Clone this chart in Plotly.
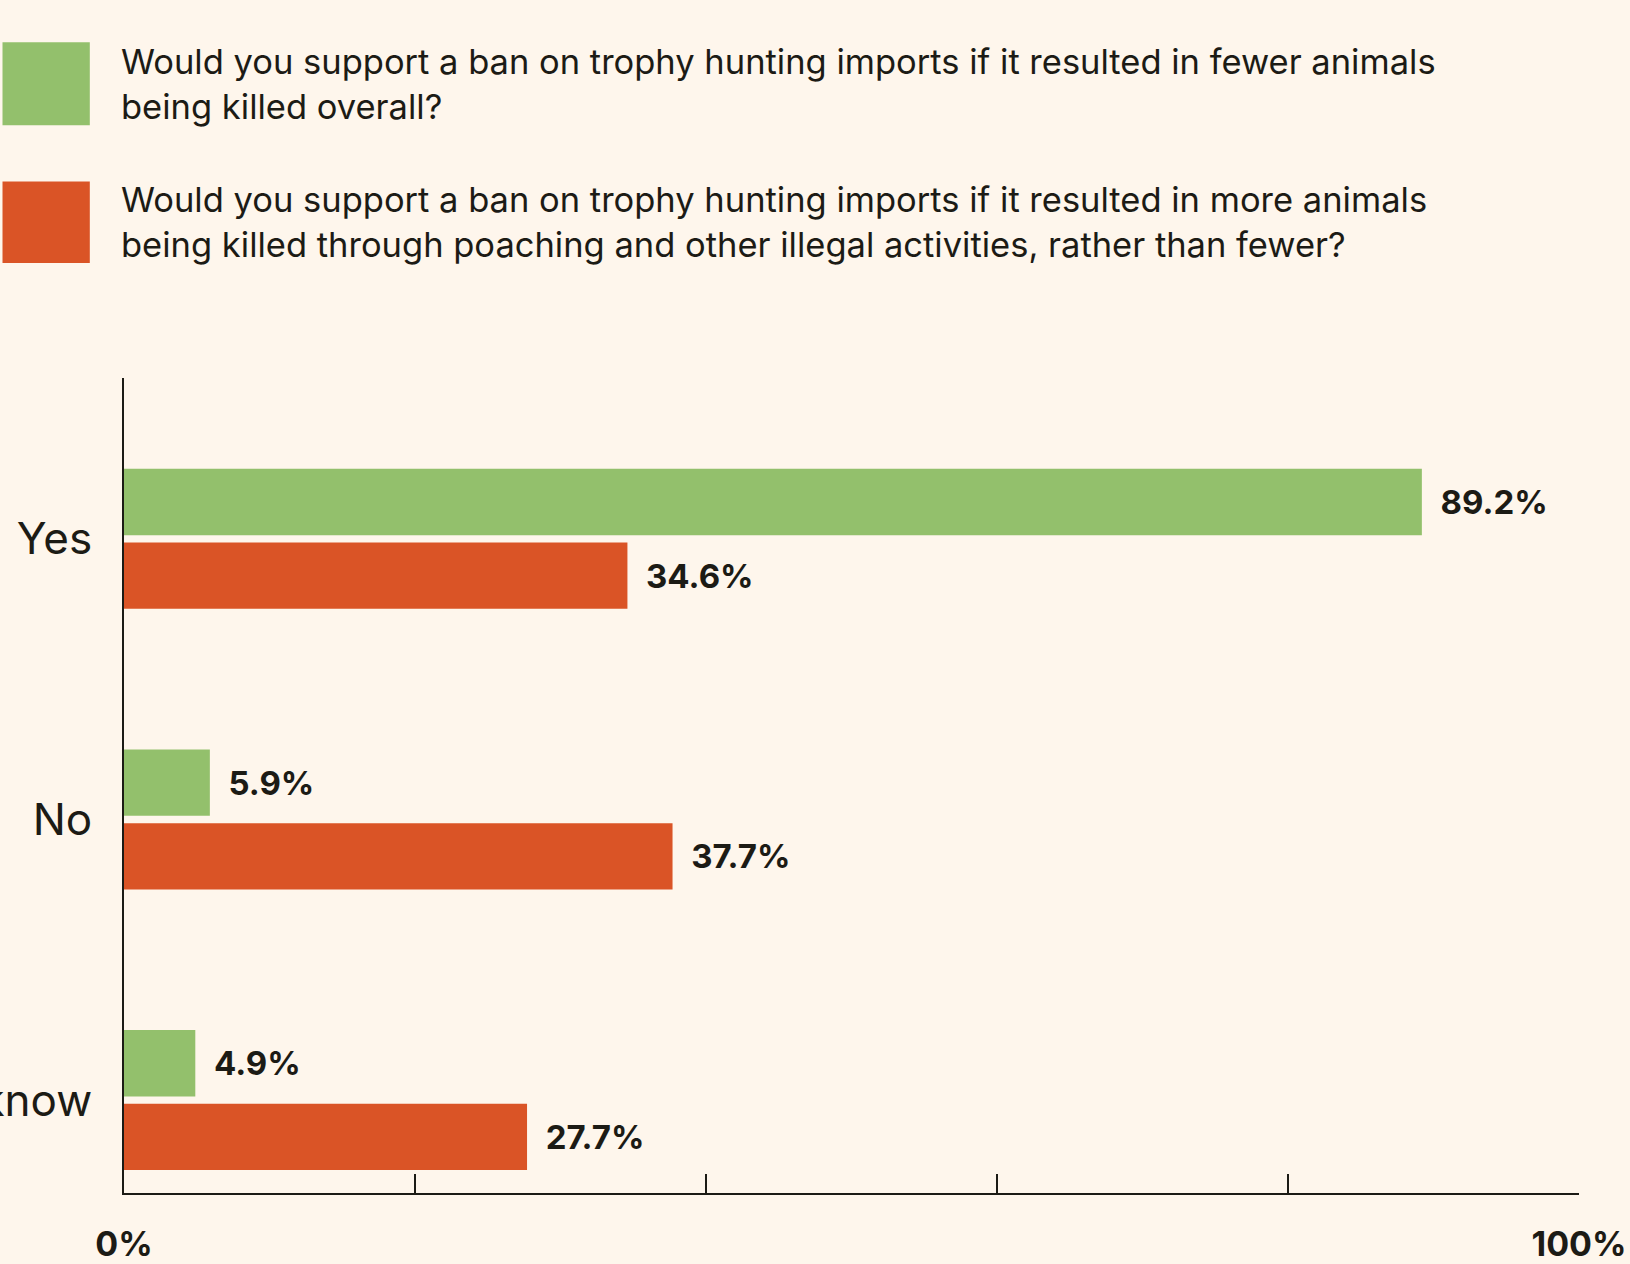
import plotly.graph_objects as go

categories = ["Yes", "No", "Don't know"]
fewer_killed = [89.2, 5.9, 4.9]
more_killed = [34.6, 37.7, 27.7]
series_names = [
    "Would you support a ban on trophy hunting imports if it resulted in fewer animals<br>being killed overall?",
    "Would you support a ban on trophy hunting imports if it resulted in more animals<br>being killed through poaching and other illegal activities, rather than fewer?",
]
tick_vals = [0, 20, 40, 60, 80, 100]
tick_text = ["0%", "", "", "", "", "100%"]

GREEN = "#93C06C"
RED = "#DA5426"
BG = "#FEF6EC"
INK = "#1C1B15"
FONT = "Inter"

fig = go.Figure()
pad = "\u00a0\u00a0"
for vals, col, name in [(fewer_killed, GREEN, series_names[0]), (more_killed, RED, series_names[1])]:
    fig.add_trace(go.Bar(
        y=categories, x=vals, orientation="h", marker=dict(color=col, line=dict(width=0)),
        name=name, text=[f"{pad}{v:.1f}%" for v in vals], textposition="outside",
        textfont=dict(family=FONT, size=33, color=INK, weight="bold"),
        cliponaxis=False, showlegend=False, hoverinfo="skip",
    ))

fig.update_layout(
    width=1630, height=1264,
    paper_bgcolor=BG, plot_bgcolor=BG,
    margin=dict(l=124, r=51, t=378, b=71, autoexpand=False),
    barmode="group", bargap=0.475, bargroupgap=0.1,
    font=dict(family=FONT, color=INK),
)
fig.update_xaxes(
    range=[0, 100], tickvals=tick_vals, ticktext=tick_text,
    showgrid=False, zeroline=False, showline=True, linecolor=INK, linewidth=2,
    ticks="inside", ticklen=19, tickwidth=2, tickcolor=INK,
    tickfont=dict(family=FONT, size=34, color=INK, weight="bold"),
    ticklabelstandoff=20, automargin=False,
)
fig.update_yaxes(
    categoryorder="array", categoryarray=categories, range=[2.331, -0.573],
    showgrid=False, zeroline=False, showline=True, linecolor=INK, linewidth=2,
    ticks="", tickfont=dict(family=FONT, size=44, color=INK),
    ticklabelstandoff=21, automargin=False,
)

# manual legend with large swatches
legend_rows = [(GREEN, series_names[0], 1.412, 1.310), (RED, series_names[1], 1.241, 1.141)]
for col, txt, y1, y0 in legend_rows:
    fig.add_shape(type="rect", xref="paper", yref="paper", x0=-0.0835, x1=-0.0235,
                  y0=y0, y1=y1, fillcolor=col, line=dict(width=0))
    fig.add_annotation(xref="paper", yref="paper", x=0, y=(y0 + y1) / 2, xshift=-5,
                       xanchor="left", yanchor="middle", align="left", showarrow=False,
                       text=txt, font=dict(family=FONT, size=34.5, color=INK))

fig.write_html(
    "out.html",
    config={"displayModeBar": False},
    post_script="document.body.style.margin='0';document.body.style.background='" + BG + "';",
)
